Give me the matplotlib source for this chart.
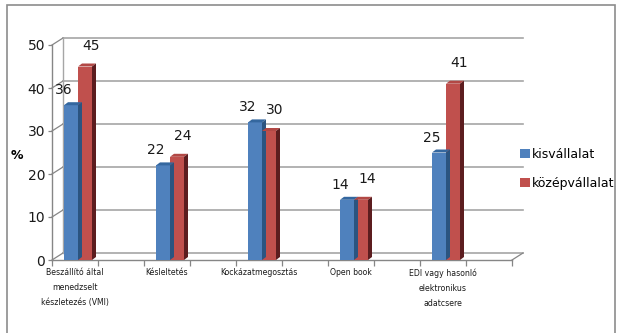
import matplotlib
matplotlib.use("Agg")
import matplotlib.pyplot as plt
from matplotlib.patches import Polygon, Rectangle

categories = ["Beszállító által\nmenedzselt\nkészletezés (VMI)", "Késleltetés",
              "Kockázatmegosztás", "Open book",
              "EDI vagy hasonló\nelektronikus\nadatcsere"]
series_names = ["kisvállalat", "középvállalat"]
kis = [36, 22, 32, 14, 25]
kozep = [45, 24, 30, 14, 41]
yticks = [0, 10, 20, 30, 40, 50]

BLUE, BLUE_TOP = "#4f81bd", "#34679f"
RED, RED_TOP, RED_SIDE = "#c0504d", "#b24845", "#5c1d1f"
GRID = "#a6a6a6"
AXIS = "#868686"

W, H = 621, 333
fig = plt.figure(figsize=(W / 100, H / 100), dpi=100)
fig.patch.set_facecolor("white")

# outer chart frame
fig.patches.append(Rectangle((7 / W, -0.05), 608 / W, 1 - 5 / H + 0.05,
                             transform=fig.transFigure, fill=False,
                             edgecolor="#8c8c8c", lw=1.2))

# front plane of the 3d plot
ax = fig.add_axes([52 / W, 73 / H, 460 / W, 215 / H])
x0, x1 = -0.25, 4.75
ax.set_xlim(x0, x1)
ax.set_ylim(0, 50)
for s in ax.spines.values():
    s.set_visible(False)

px_x = (x1 - x0) / 460.0   # data units per pixel
px_y = 50 / 215.0
dx, dy = 11 * px_x, 7 * px_y  # wall depth

# back wall gridlines and left wall edges
for v in yticks:
    ax.plot([x0 + dx, x1 + dx], [v + dy, v + dy], color=GRID, lw=1.2,
            clip_on=False, zorder=1)
    ax.plot([x0, x0 + dx], [v, v + dy], color=AXIS, lw=0.9,
            clip_on=False, zorder=1)
ax.plot([x0 + dx, x0 + dx], [dy, 50 + dy], color=GRID, lw=1.0,
        clip_on=False, zorder=1)
ax.plot([x0, x0], [0, 50], color=AXIS, lw=1.0, clip_on=False, zorder=2)
ax.plot([x0, x1], [0, 0], color=AXIS, lw=1.0, clip_on=False, zorder=2)
ax.plot([x1, x1 + dx], [0, dy], color=AXIS, lw=0.9, clip_on=False, zorder=2)

# columns
bw = 14 * px_x
xs = [i + 3 * px_x for i in range(len(categories))]
b1 = ax.bar([x - bw / 2 for x in xs], kis, width=bw, color=BLUE,
            zorder=3, label=series_names[0])
b2 = ax.bar([x + bw / 2 for x in xs], kozep, width=bw, color=RED,
            zorder=3, label=series_names[1])

sx, sy = 4 * px_x, 3 * px_y  # column depth
for bars, top_c, side_c in ((b1, BLUE_TOP, "#2b5480"), (b2, RED_TOP, RED_SIDE)):
    for p in bars.patches:
        l, r, h = p.get_x(), p.get_x() + p.get_width(), p.get_height()
        ax.add_patch(Polygon([(l, h), (r, h), (r + sx, h + sy), (l + sx, h + sy)],
                             closed=True, color=top_c, zorder=3, lw=0))
        ax.add_patch(Polygon([(r, 0), (r + sx, sy), (r + sx, h + sy), (r, h)],
                             closed=True, color=side_c, zorder=3, lw=0))

# value labels
for p, v in zip(b1.patches, kis):
    ax.annotate(str(v), (p.get_x() + p.get_width() / 2, v), xytext=(-7, 8),
                textcoords="offset pixels", ha="center", va="bottom",
                fontsize=10, color="#1a1a1a")
for p, v in zip(b2.patches, kozep):
    ax.annotate(str(v), (p.get_x() + p.get_width() / 2, v), xytext=(6, 14),
                textcoords="offset pixels", ha="center", va="bottom",
                fontsize=10, color="#1a1a1a")

# axes ticks
ax.set_yticks(yticks)
ax.tick_params(axis="y", length=3, width=0.9, color=AXIS, pad=2,
               labelsize=10, labelcolor="#1a1a1a")
ax.set_xticks(range(len(categories)))
ax.set_xticklabels(categories, fontsize=5.6, linespacing=1.85, color="#1a1a1a")
ax.tick_params(axis="x", which="major", length=0, pad=6)
ax.set_xticks([x0 + 0.5 * k for k in range(11)], minor=True)
ax.tick_params(axis="x", which="minor", length=4, width=0.9, color=AXIS)
for t in ax.get_xticklabels():
    t.set_verticalalignment("top")

fig.text(17 / W, 1 - 155 / H, "%", fontsize=9, fontweight="bold",
         ha="center", va="center")

leg = fig.legend(handles=[b1, b2], labels=series_names,
                 loc="upper left", bbox_to_anchor=(514 / W, 1 - 142 / H),
                 frameon=False, fontsize=9, handlelength=0.75,
                 handleheight=0.75, handletextpad=0.2, labelspacing=1.25,
                 borderpad=0)

fig.savefig("out.png", dpi=100)
